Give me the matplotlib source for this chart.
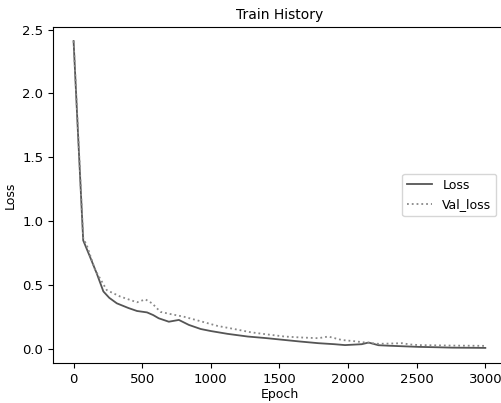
import matplotlib
matplotlib.use('Agg')
import matplotlib.pyplot as plt
import numpy as np

# values
loss_epoch = [0, 27, 70, 120, 169, 217, 260, 315, 400, 462, 535, 580, 620, 694, 767, 840, 926,
              1000, 1122, 1269, 1400, 1538, 1650, 1783, 1900, 1978, 2100, 2149, 2222, 2300,
              2394, 2516, 2650, 2760, 2900, 3000]
loss = [2.41, 1.80, 0.85, 0.72, 0.59, 0.45, 0.40, 0.357, 0.32, 0.297, 0.286, 0.265, 0.24, 0.213,
        0.227, 0.188, 0.156, 0.14, 0.118, 0.097, 0.085, 0.07, 0.058, 0.045, 0.037, 0.03, 0.037,
        0.05, 0.029, 0.025, 0.021, 0.016, 0.013, 0.01, 0.009, 0.008]

val_epoch = [0, 27, 70, 100, 156, 242, 340, 462, 523, 572, 633, 706, 804, 914, 1049, 1150, 1293,
             1400, 1538, 1650, 1783, 1856, 1954, 2050, 2125, 2222, 2300, 2394, 2450, 2516,
             2650, 2760, 2900, 3000]
val_loss = [2.41, 1.82, 0.87, 0.80, 0.62, 0.46, 0.41, 0.365, 0.388, 0.357, 0.29, 0.273, 0.252,
            0.22, 0.18, 0.16, 0.13, 0.115, 0.097, 0.09, 0.084, 0.097, 0.07, 0.06, 0.05, 0.04,
            0.042, 0.045, 0.035, 0.03, 0.028, 0.026, 0.025, 0.024]

fig = plt.figure(figsize=(5.01, 4.03), dpi=100)
# the reference is cropped: the right spine falls just outside the picture
ax = fig.add_axes([0.1058, 0.0993, 0.904, 0.8337])

ax.plot(loss_epoch, loss, color='#555555', lw=1.3, label='Loss')
ax.plot(val_epoch, val_loss, color='#888888', lw=1.3, ls=':', label='Val_loss')

ax.set_xlim(-150, 3150)
ax.set_ylim(-0.11, 2.52)
ax.set_xticks([0, 500, 1000, 1500, 2000, 2500, 3000])
ax.set_yticks([0.0, 0.5, 1.0, 1.5, 2.0, 2.5])
ax.set_title('Train History', fontsize=10)
ax.set_xlabel('Epoch', fontsize=9, labelpad=2)
ax.set_ylabel('Loss', fontsize=9, labelpad=4)
ax.tick_params(labelsize=9.5)
ax.legend(loc='center right', bbox_to_anchor=(0.993, 0.5), fontsize=9)

fig.savefig('out.png', dpi=100)
